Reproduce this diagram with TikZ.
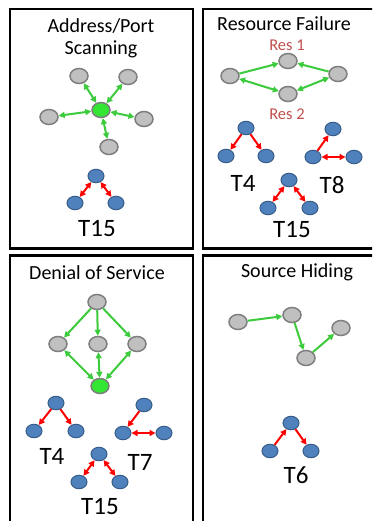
\documentclass[tikz,border=0pt]{standalone}
\usepackage{fontspec}
\setmainfont{Carlito}
\usetikzlibrary{shapes.geometric,arrows.meta}
\definecolor{gfill}{HTML}{C0C0C0}
\definecolor{gline}{HTML}{7F7F7F}
\definecolor{bfill}{HTML}{4F81BD}
\definecolor{bline}{HTML}{385D8A}
\definecolor{greenedge}{HTML}{3CCB3C}
\definecolor{greennode}{HTML}{33E633}
\definecolor{rescol}{HTML}{C0504D}
\begin{document}
\begin{tikzpicture}[x=1pt,y=-1pt,
  panel/.style={draw=black,line width=2.5pt},
  gnode/.style={ellipse,minimum width=18pt,minimum height=15pt,inner sep=0pt,fill=gfill,draw=gline,line width=1.5pt},
  cnode/.style={gnode,fill=greennode},
  bnode/.style={ellipse,minimum width=16pt,minimum height=13.5pt,inner sep=0pt,fill=bfill,draw=bline,line width=1pt},
  tip/.style={},
  garr/.style={draw=greenedge,line width=2pt,-{Triangle[length=6pt,width=6pt]}},
  gboth/.style={draw=greenedge,line width=2pt,{Triangle[length=6pt,width=6pt]}-{Triangle[length=6pt,width=6pt]}},
  rarr/.style={draw=red,line width=2pt,-{Triangle[length=6pt,width=6pt]}},
  rboth/.style={draw=red,line width=2pt,{Triangle[length=6pt,width=6pt]}-{Triangle[length=6pt,width=6pt]}},
  ttl/.style={font=\fontsize{20}{24}\selectfont,inner sep=0pt},
  tlab/.style={font=\fontsize{25}{30}\selectfont,inner sep=0pt},
  rlab/.style={font=\fontsize{16.5}{20}\selectfont,text=rescol,inner sep=0pt}
]
\useasboundingbox (0,0) rectangle (372,521);
\clip (0,0) rectangle (372,521);
\fill[white] (0,0) rectangle (372,521);
% panels
\draw[panel] (10,9) rectangle (193,248.5);
\draw[panel] (203,9) rectangle (390,248.5);
\draw[panel] (10,255.5) rectangle (193,540);
\draw[panel] (203,255.5) rectangle (390,540);

% ---------- Address/Port Scanning ----------
\node[ttl] (t1a) at (101,26) {Address/Port};
\node[ttl] (t1b) at (101,49) {Scanning};
\node[cnode] (sc) at (101,110) {};
\node[gnode] (s1) at (79,76) {};
\node[gnode] (s2) at (128,77) {};
\node[gnode] (s3) at (49,117) {};
\node[gnode] (s4) at (144,119) {};
\node[gnode] (s5) at (109,147) {};
\foreach \n in {s1,s2,s3,s4,s5} \draw[gboth] (sc) -- (\n);
\node[bnode] (a1) at (96,176) {};
\node[bnode] (a2) at (75,203) {};
\node[bnode] (a3) at (116,203) {};
\draw[rboth] (a1) -- (a2);
\draw[rboth] (a1) -- (a3);
\node[tlab] (la) at (97,229) {T15};

% ---------- Resource Failure ----------
\node[ttl] (t2) at (284,24) {Resource Failure};
\node[rlab] (r1l) at (287,45) {Res 1};
\node[rlab] (r2l) at (287,114) {Res 2};
\node[gnode] (rl) at (230,76) {};
\node[gnode] (rt) at (288,61) {};
\node[gnode] (rr) at (338,74) {};
\node[gnode] (rb) at (288,94) {};
\draw[garr] (rl) -- (rt);
\draw[garr] (rr) -- (rt);
\draw[gboth] (rl) -- (rb);
\draw[gboth] (rr) -- (rb);
% T4
\node[bnode] (b1) at (246,128) {};
\node[bnode] (b2) at (226,156) {};
\node[bnode] (b3) at (266,156) {};
\draw[rarr] (b1) -- (b2);
\draw[rarr] (b1) -- (b3);
\node[tlab] (lb4) at (243,183) {T4};
% T8
\node[bnode] (c1) at (333,129) {};
\node[bnode] (c2) at (313,157) {};
\node[bnode] (c3) at (354,157) {};
\draw[rarr] (c2) -- (c1);
\draw[rboth] (c2) -- (c3);
\node[tlab] (lc8) at (332,185) {T8};
% T15
\node[bnode] (d1) at (289,180) {};
\node[bnode] (d2) at (268,208) {};
\node[bnode] (d3) at (310,208) {};
\draw[rboth] (d1) -- (d2);
\draw[rboth] (d1) -- (d3);
\node[tlab] (ld15) at (292,230) {T15};

% ---------- Denial of Service ----------
\node[ttl] (t3) at (97,273) {Denial of Service};
\node[gnode] (e0) at (97,302) {};
\node[gnode] (e1) at (58,344) {};
\node[gnode] (e2) at (98,344) {};
\node[gnode] (e3) at (137,344) {};
\node[cnode] (eg) at (100,386) {};
\foreach \n in {e1,e2,e3} {\draw[garr] (e0) -- (\n); \draw[gboth] (\n) -- (eg);}
% T4
\node[bnode] (f1) at (56,403) {};
\node[bnode] (f2) at (34,431) {};
\node[bnode] (f3) at (76,431) {};
\draw[rarr] (f1) -- (f2);
\draw[rarr] (f1) -- (f3);
\node[tlab] (lf4) at (52,456) {T4};
% T7
\node[bnode] (g1) at (144,405) {};
\node[bnode] (g2) at (123,433) {};
\node[bnode] (g3) at (164,433) {};
\draw[rarr] (g1) -- (g2);
\draw[rboth] (g2) -- (g3);
\node[tlab] (lg7) at (140,462) {T7};
% T15
\node[bnode] (h1) at (99,454) {};
\node[bnode] (h2) at (79,482) {};
\node[bnode] (h3) at (120,482) {};
\draw[rboth] (h1) -- (h2);
\draw[rboth] (h1) -- (h3);
\node[tlab] (lh15) at (100,507) {T15};

% ---------- Source Hiding ----------
\node[ttl] (t4) at (297,272) {Source Hiding};
\node[gnode] (k1) at (238,322) {};
\node[gnode] (k2) at (292,315) {};
\node[gnode] (k3) at (306,358) {};
\node[gnode] (k4) at (341,328) {};
\draw[garr] (k1) -- (k2);
\draw[garr] (k2) -- (k3);
\draw[garr] (k3) -- (k4);
\node[bnode] (m1) at (291,423) {};
\node[bnode] (m2) at (270,451) {};
\node[bnode] (m3) at (311,451) {};
\draw[rarr] (m2) -- (m1);
\draw[rarr] (m1) -- (m3);
\node[tlab] (lm6) at (296,475) {T6};
\end{tikzpicture}
\end{document}
